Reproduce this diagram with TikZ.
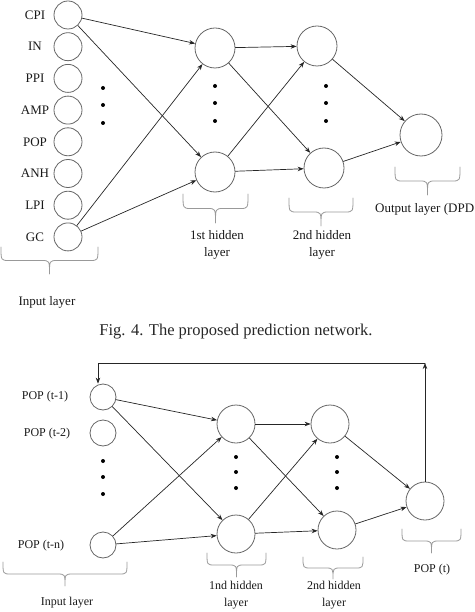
\documentclass[tikz,border=0pt]{standalone}
\usepackage{fontspec}
\setmainfont{Liberation Serif}
\usepackage{tikz}
\usetikzlibrary{arrows.meta}
\tikzset{
  every picture/.style={line join=round, line cap=round, >=Stealth},
  neuron/.style={circle, draw=black!60, line width=0.8pt, minimum size=#1, inner sep=0pt},
  link/.style={-{Stealth[length=6pt,width=4.5pt]}, draw=black!85, line width=0.7pt},
  brc/.style={draw=black!40, line width=0.8pt},
  lab/.style={font=\fontsize{12}{17}\selectfont, inner sep=0pt, align=center, text=black!90},
  labtop/.style={lab, font=\fontsize{13}{17}\selectfont},
}
\newcommand{\layerbrace}[4]{%
  \draw[brc] (#1,#3) .. controls (#1,#3+#4/2) .. (#1+8,#3+#4/2) -- ({(#1+#2)/2-8},#3+#4/2)
    .. controls ({(#1+#2)/2},#3+#4/2) .. ({(#1+#2)/2},#3+#4)
    .. controls ({(#1+#2)/2},#3+#4/2) .. ({(#1+#2)/2+8},#3+#4/2) -- (#2-8,#3+#4/2)
    .. controls (#2,#3+#4/2) .. (#2,#3);}

\begin{document}
\begin{tikzpicture}[x=1pt,y=-1pt]
\useasboundingbox (0,0) rectangle (474,612);
\foreach \lab [count=\i] in {CPI,IN,PPI,AMP,POP,ANH,LPI,GC}{
  \node[neuron=28] (x\i) at (68,{15+31.7*(\i-1)}) {};
  \node[labtop] (lx\i) at (35,{15+31.7*(\i-1)}) {\lab};
}
\node[neuron=40] (h1a) at (215,48) {};
\node[neuron=40] (h1b) at (215,172) {};
\node[neuron=40] (h2a) at (317,46) {};
\node[neuron=40] (h2b) at (324,168) {};
\node[neuron=42] (o1) at (421,135) {};
\foreach \y in {88,105,123}{
  \fill (103,\y) circle (2pt);
  \fill (215,\y-2) circle (2pt);
  \fill (326,\y-2) circle (2pt);
}
\draw[link] (x1) -- (h1a);
\draw[link] (x1) -- (h1b);
\draw[link] (x8) -- (h1a);
\draw[link] (x8) -- (h1b);
\draw[link] (h1a) -- (h2a);
\draw[link] (h1a) -- (h2b);
\draw[link] (h1b) -- (h2a);
\draw[link] (h1b) -- (h2b);
\draw[link] (h2a) -- (o1);
\draw[link] (h2b) -- (o1);
\layerbrace{1}{98}{247}{27}
\layerbrace{183}{248}{194}{29}
\layerbrace{289}{353}{198}{28}
\layerbrace{395}{460}{167}{28}
\node[labtop] (tin) at (47,302) {Input layer};
\node[labtop] (th1) at (217,244.5) {1st hidden\\layer};
\node[labtop] (th2) at (322,244.5) {2nd hidden\\layer};
\node[labtop, anchor=west] (tout) at (375,209) {Output layer (DPD};
\node[font=\fontsize{16.5}{18}\selectfont, text=black!85] (cap) at (236,332) {Fig. 4. The proposed prediction network.};
\node[neuron=26] (b1) at (103,397) {};
\node[neuron=26] (b2) at (103,433) {};
\node[neuron=26] (bn) at (103,545) {};
\node[lab] (lb1) at (45,397) {POP (t-1)};
\node[lab] (lb2) at (47,434) {POP (t-2)};
\node[lab] (lbn) at (41,546) {POP (t-n)};
\node[neuron=38] (g1a) at (236,424) {};
\node[neuron=38] (g1b) at (236,534) {};
\node[neuron=38] (g2a) at (330,424) {};
\node[neuron=38] (g2b) at (337,530) {};
\node[neuron=38] (o2) at (425,501) {};
\foreach \y in {461,477,494}
  \fill (103,\y) circle (2pt);
\foreach \y in {457,472,488}{
  \fill (236,\y) circle (2pt);
  \fill (337,\y) circle (2pt);
}
\draw[link] (b1) -- (g1a);
\draw[link] (b1) -- (g1b);
\draw[link] (bn) -- (g1a);
\draw[link] (bn) -- (g1b);
\draw[link] (g1a) -- (g2a);
\draw[link] (g1a) -- (g2b);
\draw[link] (g1b) -- (g2a);
\draw[link] (g1b) -- (g2b);
\draw[link] (g2a) -- (o2);
\draw[link] (g2b) -- (o2);
\coordinate (fbR) at (425,363);
\coordinate (fbL) at (98,363);
\draw[link] (o2) -- (fbR);
\draw[link] (fbR) -- (fbL) -- (fbL |- b1.north);
\layerbrace{3}{127}{562}{24}
\layerbrace{207}{266}{553}{24}
\layerbrace{303}{363}{557}{22}
\layerbrace{402}{461}{529}{24}
\node[lab] (bin) at (67,603) {Input layer};
\node[lab] (bh1) at (236,595) {1nd hidden\\layer};
\node[lab] (bh2) at (334,595) {2nd hidden\\layer};
\node[lab] (bout) at (432,570) {POP (t)};
\end{tikzpicture}
\end{document}
